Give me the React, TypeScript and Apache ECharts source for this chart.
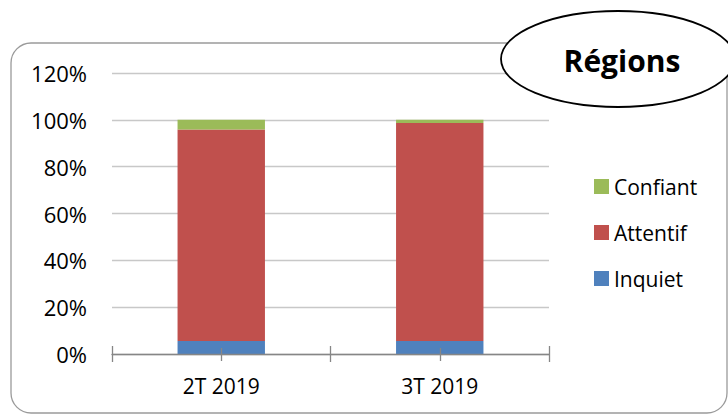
import React, { useEffect, useRef } from "react";
import * as echarts from "echarts";

const categories = ["2T 2019", "3T 2019"];
const inquiet = [5.5, 5.5];
const attentif = [90.4, 93.1];
const confiant = [4.1, 1.4];
const legendOrder = ["Confiant", "Attentif", "Inquiet"];
const titleText = "Régions";

const FONT = "Open Sans";

export default function App() {
  const ref = useRef<HTMLDivElement>(null);
  useEffect(() => {
    if (!ref.current) return;
    const chart = echarts.init(ref.current, null, { renderer: "svg" });
    const tickColor = "#868686";
    const hiddenAxis = (extra: any) => ({
      type: "category",
      data: categories,
      position: "bottom",
      gridIndex: 0,
      axisLine: { show: false },
      axisLabel: { show: false },
      splitLine: { show: false },
      z: 10,
      ...extra,
    });
    chart.setOption({
      animation: false,
      backgroundColor: "#ffffff",
      textStyle: { fontFamily: FONT },
      grid: { left: 112, right: 179, top: 73, bottom: 61, containLabel: false },
      legend: {
        data: legendOrder,
        orient: "vertical",
        left: 589,
        top: 171,
        itemWidth: 15,
        itemHeight: 15,
        itemGap: 25,
        icon: "rect",
        textStyle: { fontFamily: FONT, fontSize: 21, color: "#000" },
      },
      xAxis: [
        {
          type: "category",
          data: categories,
          axisLine: { show: true, lineStyle: { color: tickColor, width: 1.3 } },
          axisTick: { show: true, length: 8, lineStyle: { color: tickColor, width: 1.3 } },
          axisLabel: { fontFamily: FONT, fontSize: 21, color: "#000", margin: 21 },
          splitLine: { show: false },
          z: 10,
        },
        hiddenAxis({
          axisTick: { show: true, inside: true, length: 8, lineStyle: { color: tickColor, width: 1.3 } },
        }),
        hiddenAxis({
          axisTick: { show: true, alignWithLabel: true, length: 7, lineStyle: { color: tickColor, width: 1.3 } },
        }),
        hiddenAxis({
          axisTick: { show: true, inside: true, alignWithLabel: true, length: 6, lineStyle: { color: tickColor, width: 1.3 } },
        }),
      ],
      yAxis: {
        type: "value",
        min: 0,
        max: 120,
        interval: 20,
        axisLine: { show: false },
        axisTick: { show: false },
        axisLabel: {
          formatter: "{value}%",
          fontFamily: FONT,
          fontSize: 22,
          color: "#000",
          margin: 25,
        },
        splitLine: { lineStyle: { color: "#c8c8c8", width: 1.3 } },
      },
      series: [
        {
          name: "Inquiet",
          type: "bar",
          stack: "s",
          barWidth: "40%",
          data: inquiet,
          itemStyle: { color: "#4f81bd" },
        },
        {
          name: "Attentif",
          type: "bar",
          stack: "s",
          barWidth: "40%",
          data: attentif,
          itemStyle: { color: "#c0504d" },
        },
        {
          name: "Confiant",
          type: "bar",
          stack: "s",
          barWidth: "40%",
          data: confiant,
          itemStyle: { color: "#9bbb59" },
        },
      ],
      graphic: [
        {
          type: "rect",
          z: -1,
          shape: { x: 11, y: 43, width: 716, height: 370, r: 20 },
          style: { fill: "none", stroke: "#9a9a9a", lineWidth: 1.3 },
          silent: true,
        },
        {
          type: "ellipse",
          z: 100,
          shape: { cx: 618, cy: 59, rx: 117, ry: 48 },
          style: { fill: "#ffffff", stroke: "#000000", lineWidth: 1.8 },
          silent: true,
        },
        {
          type: "text",
          z: 101,
          x: 622,
          y: 60,
          style: {
            text: titleText,
            fontFamily: FONT,
            fontWeight: "bold",
            fontSize: 30,
            fill: "#000",
            textAlign: "center",
            textVerticalAlign: "middle",
          },
          silent: true,
        },
      ],
    });
    return () => chart.dispose();
  }, []);
  return (
    <div
      ref={ref}
      style={{ position: "fixed", left: 0, top: 0, width: 728, height: 415 }}
    />
  );
}
